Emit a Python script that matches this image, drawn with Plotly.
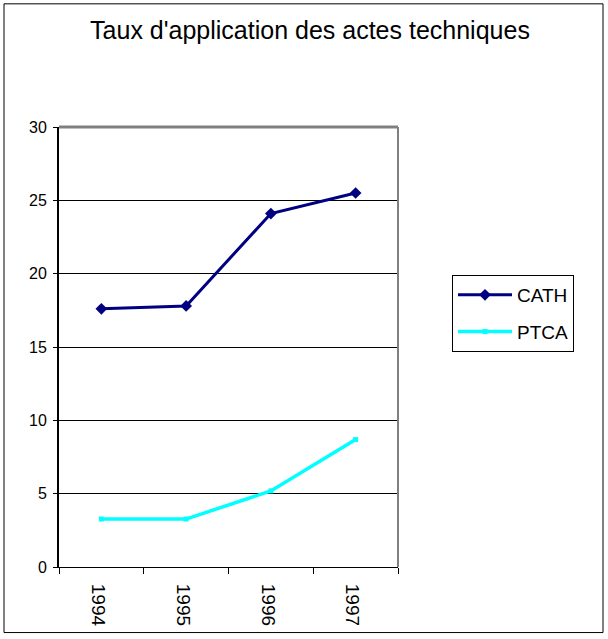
import plotly.graph_objects as go

years = ["1994", "1995", "1996", "1997"]
cath = [17.6, 17.8, 24.1, 25.5]
ptca = [3.27, 3.27, 5.19, 8.69]
y_ticks = [0, 5, 10, 15, 20, 25, 30]

FONT = "Liberation Sans, Arial, sans-serif"

fig = go.Figure()
fig.add_trace(go.Scatter(
    x=years, y=cath, name="CATH", mode="lines+markers", legendgroup="a",
    line=dict(color="#000080", width=3),
    marker=dict(symbol="diamond", size=9, color="#000080"),
))
fig.add_trace(go.Scatter(
    x=years, y=ptca, name="PTCA", mode="lines+markers", legendgroup="b",
    line=dict(color="#00FFFF", width=3.5),
    marker=dict(symbol="square", size=5, color="#00FFFF"),
))

L, R, T, B = 59, 398, 127, 570
W, H = 608, 639
pw, ph = R - L, B - T

def px(x):
    return (x - L) / pw

def py(y):
    return (B - y) / ph

fig.update_layout(
    width=W, height=H,
    margin=dict(l=L, r=W - R, t=T, b=H - B, pad=0),
    paper_bgcolor="white", plot_bgcolor="white",
    font=dict(family=FONT, color="black", size=15),
    title=dict(text="Taux d'application des actes techniques",
               x=px(310), xanchor="center", xref="paper",
               y=1 - 30 / H, yanchor="middle",
               font=dict(size=25, family=FONT, color="black")),
    showlegend=True,
    legend=dict(x=px(452), y=py(276), xanchor="left", yanchor="top",
                bordercolor="black", borderwidth=1, bgcolor="white",
                font=dict(size=19, family=FONT), itemwidth=54,
                traceorder="grouped", tracegroupgap=9),
    xaxis=dict(type="category", range=[-0.5, 3.5], tickson="boundaries",
               ticks="outside", ticklen=6, tickcolor="black",
               tickangle=90, showgrid=False, showline=True,
               linecolor="black", linewidth=1, zeroline=False,
               ticklabelstandoff=12, ticklabelshift=-3,
               tickfont=dict(size=19, family=FONT)),
    yaxis=dict(range=[0, 30], tickvals=y_ticks, ticks="outside", ticklen=4,
               tickcolor="black", showgrid=True, gridcolor="black",
               gridwidth=1, showline=True, linecolor="black", linewidth=2,
               zeroline=False, ticklabelstandoff=3,
               tickfont=dict(size=16, family=FONT)),
)

shapes = [
    dict(type="line", xref="paper", yref="paper", x0=0, x1=1, y0=1, y1=1,
         line=dict(color="#808080", width=3)),
    dict(type="line", xref="paper", yref="paper", x0=1, x1=1, y0=0, y1=1,
         line=dict(color="#808080", width=2)),
    dict(type="rect", xref="paper", yref="paper",
         x0=px(4), x1=px(603), y0=py(636), y1=py(3),
         line=dict(color="black", width=1), layer="below"),
]
fig.update_layout(shapes=shapes)

fig.write_html("out.html", config={"displayModeBar": False},
               post_script="document.body.style.margin='0';")
